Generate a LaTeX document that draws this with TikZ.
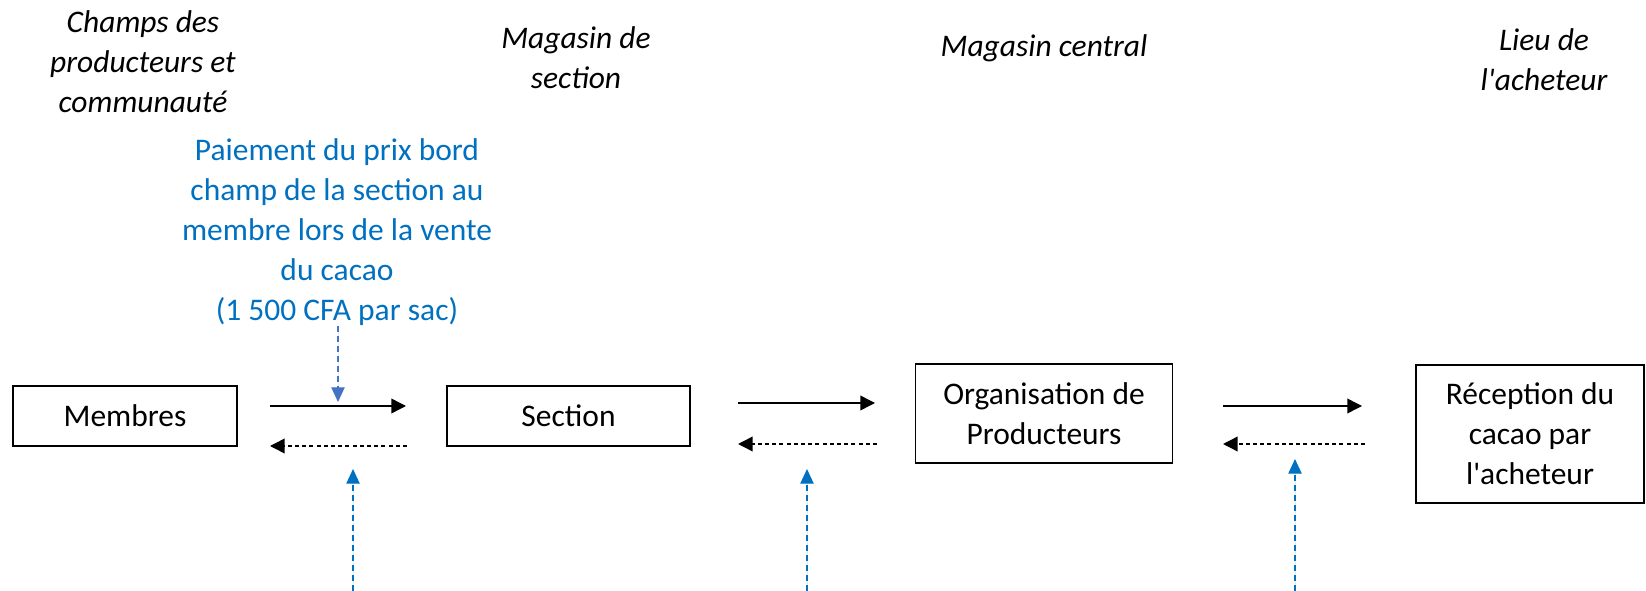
\documentclass[tikz,border=0pt]{standalone}
\usepackage{fontspec}
\setmainfont{Carlito}[Ligatures=TeXOff]
\usetikzlibrary{arrows.meta}
\definecolor{txtblue}{HTML}{0070C0}
\definecolor{arrblue}{HTML}{4472C4}
\begin{document}
\begin{tikzpicture}[x=0.75pt,y=-0.75pt,
  txt/.style={font=\fontsize{23.6pt}{30pt}\selectfont, align=center, inner sep=0pt},
  hdr/.style={txt, font=\fontsize{23.6pt}{30pt}\selectfont\itshape},
  box/.style={txt, draw, line width=1.1pt},
  flow/.style={line width=1.1pt, -{Triangle[length=11pt,width=11pt]}},
  back/.style={line width=1.1pt, dash pattern=on 3pt off 2.4pt, -{Triangle[length=11pt,width=11pt]}},
  note/.style={line width=0.9pt, dash pattern=on 4.5pt off 3pt, -{Triangle[length=11pt,width=10pt]}}]
\useasboundingbox (0,0) rectangle (1646,591);
% headers
\node[hdr] (h1) at (143,62) {Champs des\\producteurs et\\communauté};
\node[hdr] (h2) at (576,58) {Magasin de\\section};
\node[hdr] (h3) at (1044,48) {Magasin central};
\node[hdr] (h4) at (1544,60) {Lieu de\\l'acheteur};
% boxes
\node[box, minimum width=168pt, minimum height=45pt] (m) at (125,416) {Membres};
\node[box, minimum width=182.25pt, minimum height=45pt] (s) at (568.5,416) {Section};
\node[box, minimum width=192.75pt, minimum height=74.25pt] (o) at (1044,413.5) {Organisation de\\Producteurs};
\node[box, minimum width=171pt, minimum height=103.5pt] (r) at (1530,434) {Réception du\\cacao par\\l'acheteur};
% blue note
\node[txt, text=txtblue] (p) at (337,232) {Paiement du prix bord\\champ de la section au\\membre lors de la vente\\du cacao\\(1 500 CFA par sac)};
\coordinate (pd) at (338,402);
\draw[note, draw=arrblue, fill=arrblue] (p.south -| pd) -- (pd);
% flow arrows
\coordinate (a1s) at (270,406); \coordinate (a1e) at (406,406);
\coordinate (b1s) at (407,446); \coordinate (b1e) at (270,446);
\coordinate (a2s) at (738,403); \coordinate (a2e) at (875,403);
\coordinate (b2s) at (877,444); \coordinate (b2e) at (738,444);
\coordinate (a3s) at (1223,406); \coordinate (a3e) at (1362,406);
\coordinate (b3s) at (1365,444); \coordinate (b3e) at (1223,444);
\draw[flow] (a1s) -- (a1e);
\draw[back] (b1s) -- (b1e);
\draw[flow] (a2s) -- (a2e);
\draw[back] (b2s) -- (b2e);
\draw[flow] (a3s) -- (a3e);
\draw[back] (b3s) -- (b3e);
% upward blue arrows
\coordinate (u1b) at (353,591); \coordinate (u1t) at (353,469);
\coordinate (u2b) at (807,591); \coordinate (u2t) at (807,469);
\coordinate (u3b) at (1295,591); \coordinate (u3t) at (1295,459);
\draw[note, draw=txtblue, fill=txtblue] (u1b) -- (u1t);
\draw[note, draw=txtblue, fill=txtblue] (u2b) -- (u2t);
\draw[note, draw=txtblue, fill=txtblue] (u3b) -- (u3t);
\end{tikzpicture}
\end{document}
